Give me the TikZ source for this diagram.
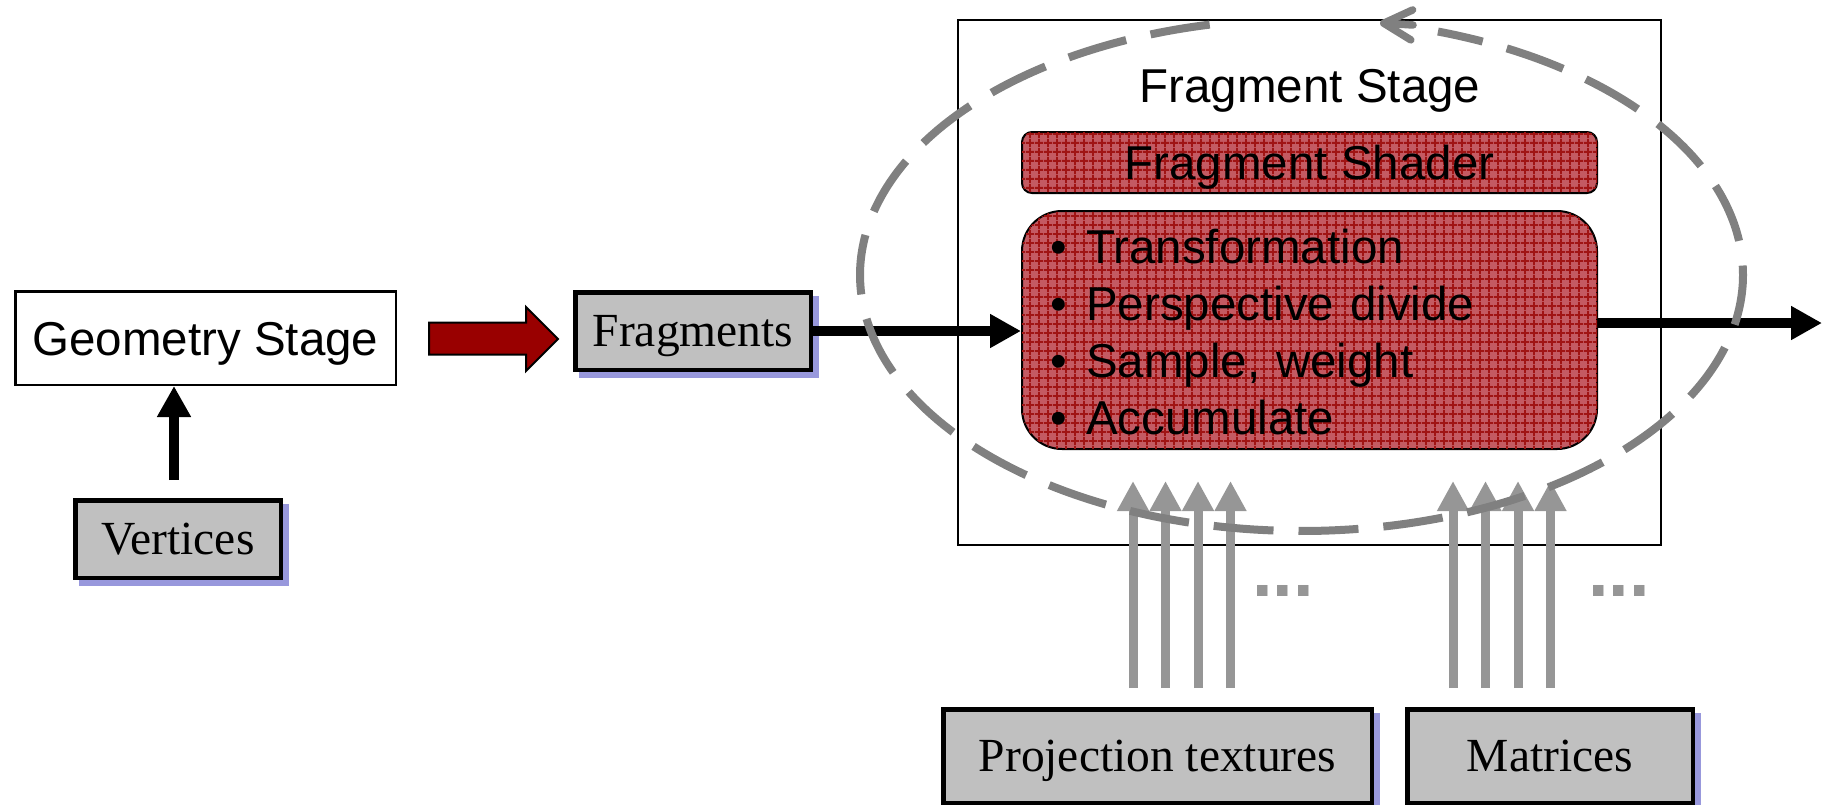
\documentclass[tikz,border=0pt]{standalone}
\usepackage{fontspec}
\setmainfont{Liberation Serif}
\newfontfamily\arialfont{Liberation Sans}
\usetikzlibrary{arrows.meta,calc,shadows,patterns.meta}

\definecolor{boxgray}{HTML}{C0C0C0}
\definecolor{blockred}{HTML}{990000}
\definecolor{redbase}{HTML}{C45A62}
\definecolor{redline}{HTML}{A01414}
\definecolor{lav}{HTML}{9898DC}
\definecolor{dashgray}{HTML}{808080}
\definecolor{arrowgray}{HTML}{969696}

\tikzdeclarepattern{
  name=redgrid,
  type=uncolored,
  bounding box={(0pt,0pt) and (9pt,9pt)},
  tile size={(9pt,9pt)},
  code={
    \draw[line width=2pt] (0pt,4.5pt) -- (9pt,4.5pt) (4.5pt,0pt) -- (4.5pt,9pt);
  }
}

\begin{document}
\begin{tikzpicture}[x=1pt,y=-1pt,
  every node/.style={inner sep=0pt},
  sanstext/.style={font=\arialfont\fontsize{47.5pt}{57.3pt}\selectfont},
  seriftext/.style={font=\fontsize{47.5pt}{57pt}\selectfont},
  plainbox/.style={draw, line width=2.5pt, sanstext, text height=34pt, text depth=0pt},
  graybox/.style={draw, line width=4.5pt, fill=boxgray, seriftext, text height=31.5pt, text depth=0pt,
    copy shadow={shadow xshift=6pt, shadow yshift=-6pt, draw=lav, fill=lav}},
  redbox/.style={draw, line width=2pt, fill=redbase, postaction={pattern={redgrid}, pattern color=redline}},
  thickarrow/.style={line width=10pt, -{Triangle[length=31pt,width=32pt]}},
  grayarrow/.style={draw=arrowgray, line width=9pt, -{Triangle[length=30pt,width=30pt]}},
  ellipsedash/.style={draw=dashgray, line width=8pt, dash pattern=on 60pt off 25pt},
]
\useasboundingbox (0,0) rectangle (1822,804);

% left part
\node[plainbox, minimum width=380.5pt, minimum height=93.5pt] (geo) at (205.5,338) {Geometry Stage};
\node[graybox, minimum width=205.5pt, minimum height=77.5pt] (vert) at (178,539) {Vertices};
\node[graybox, minimum width=235.5pt, minimum height=77.5pt] (frag) at (693,331) {Fragments};

\draw[thickarrow] ($(vert.north)+(-4,-18)$) -- ($(vert.north |- geo.south)+(-4,0)$);

\draw[line width=2pt, fill=blockred] (429,322.5) -- (526,322.5) -- (526,307) -- (558,339)
  -- (526,371) -- (526,354.5) -- (429,354.5) -- cycle;

% fragment stage
\node[draw, line width=2pt, minimum width=703pt, minimum height=525pt] (stage) at (1309.5,282.5) {};
\node[sanstext, anchor=base] (stagelabel) at (1310,102) {Fragment Stage};
\node[redbox, rounded corners=10pt, minimum width=575pt, minimum height=61pt, sanstext,
  text height=34pt, text depth=0pt] (shader) at (1309.5,162.5) {Fragment Shader};
\node[redbox, rounded corners=40pt, minimum width=575pt, minimum height=238pt] (list) at (1309.5,330) {};
\node[sanstext, anchor=base west, text width=540pt, align=left] (listtext) at (1050,263)
  {\makebox[36pt][l]{•}Transformation\\
   \makebox[36pt][l]{•}Perspective divide\\
   \makebox[36pt][l]{•}Sample, weight\\
   \makebox[36pt][l]{•}Accumulate};

\draw[thickarrow] (frag.east) -- (frag.east -| list.west);
\coordinate (out) at (1822,323);
\draw[thickarrow] (list.east |- out) -- (out);

% inputs
\node[graybox, minimum width=428.5pt, minimum height=93.5pt] (proj) at (1157.5,756) {Projection textures};
\node[graybox, minimum width=285.5pt, minimum height=93.5pt] (mat) at (1550,756) {Matrices};

\foreach \dx in {-24.5,8,40.5,73}
  \draw[grayarrow] ($(proj.north)+(\dx,-19)$) -- ($(proj.north)+(\dx,-226)$);
\foreach \dx in {-97,-64.5,-32,0.5}
  \draw[grayarrow] ($(mat.north)+(\dx,-19)$) -- ($(mat.north)+(\dx,-226)$);

\node[anchor=base west, text=arrowgray, font=\arialfont\bfseries\fontsize{74pt}{80pt}\selectfont] (dotsa) at (1252,596) {...};
\node[anchor=base west, text=arrowgray, font=\arialfont\bfseries\fontsize{74pt}{80pt}\selectfont] (dotsb) at (1588,596) {...};

% dashed loop
\draw[ellipsedash] plot[domain=-102:-432, samples=300, smooth] ({1301.5+441.5*cos(\x)},{275+256*sin(\x)});
\draw[draw=dashgray, line width=7.5pt, line cap=round, -{Straight Barb[length=28pt,width=30pt,round]}] (1413,25) -- (1380,23);

\end{tikzpicture}
\end{document}
